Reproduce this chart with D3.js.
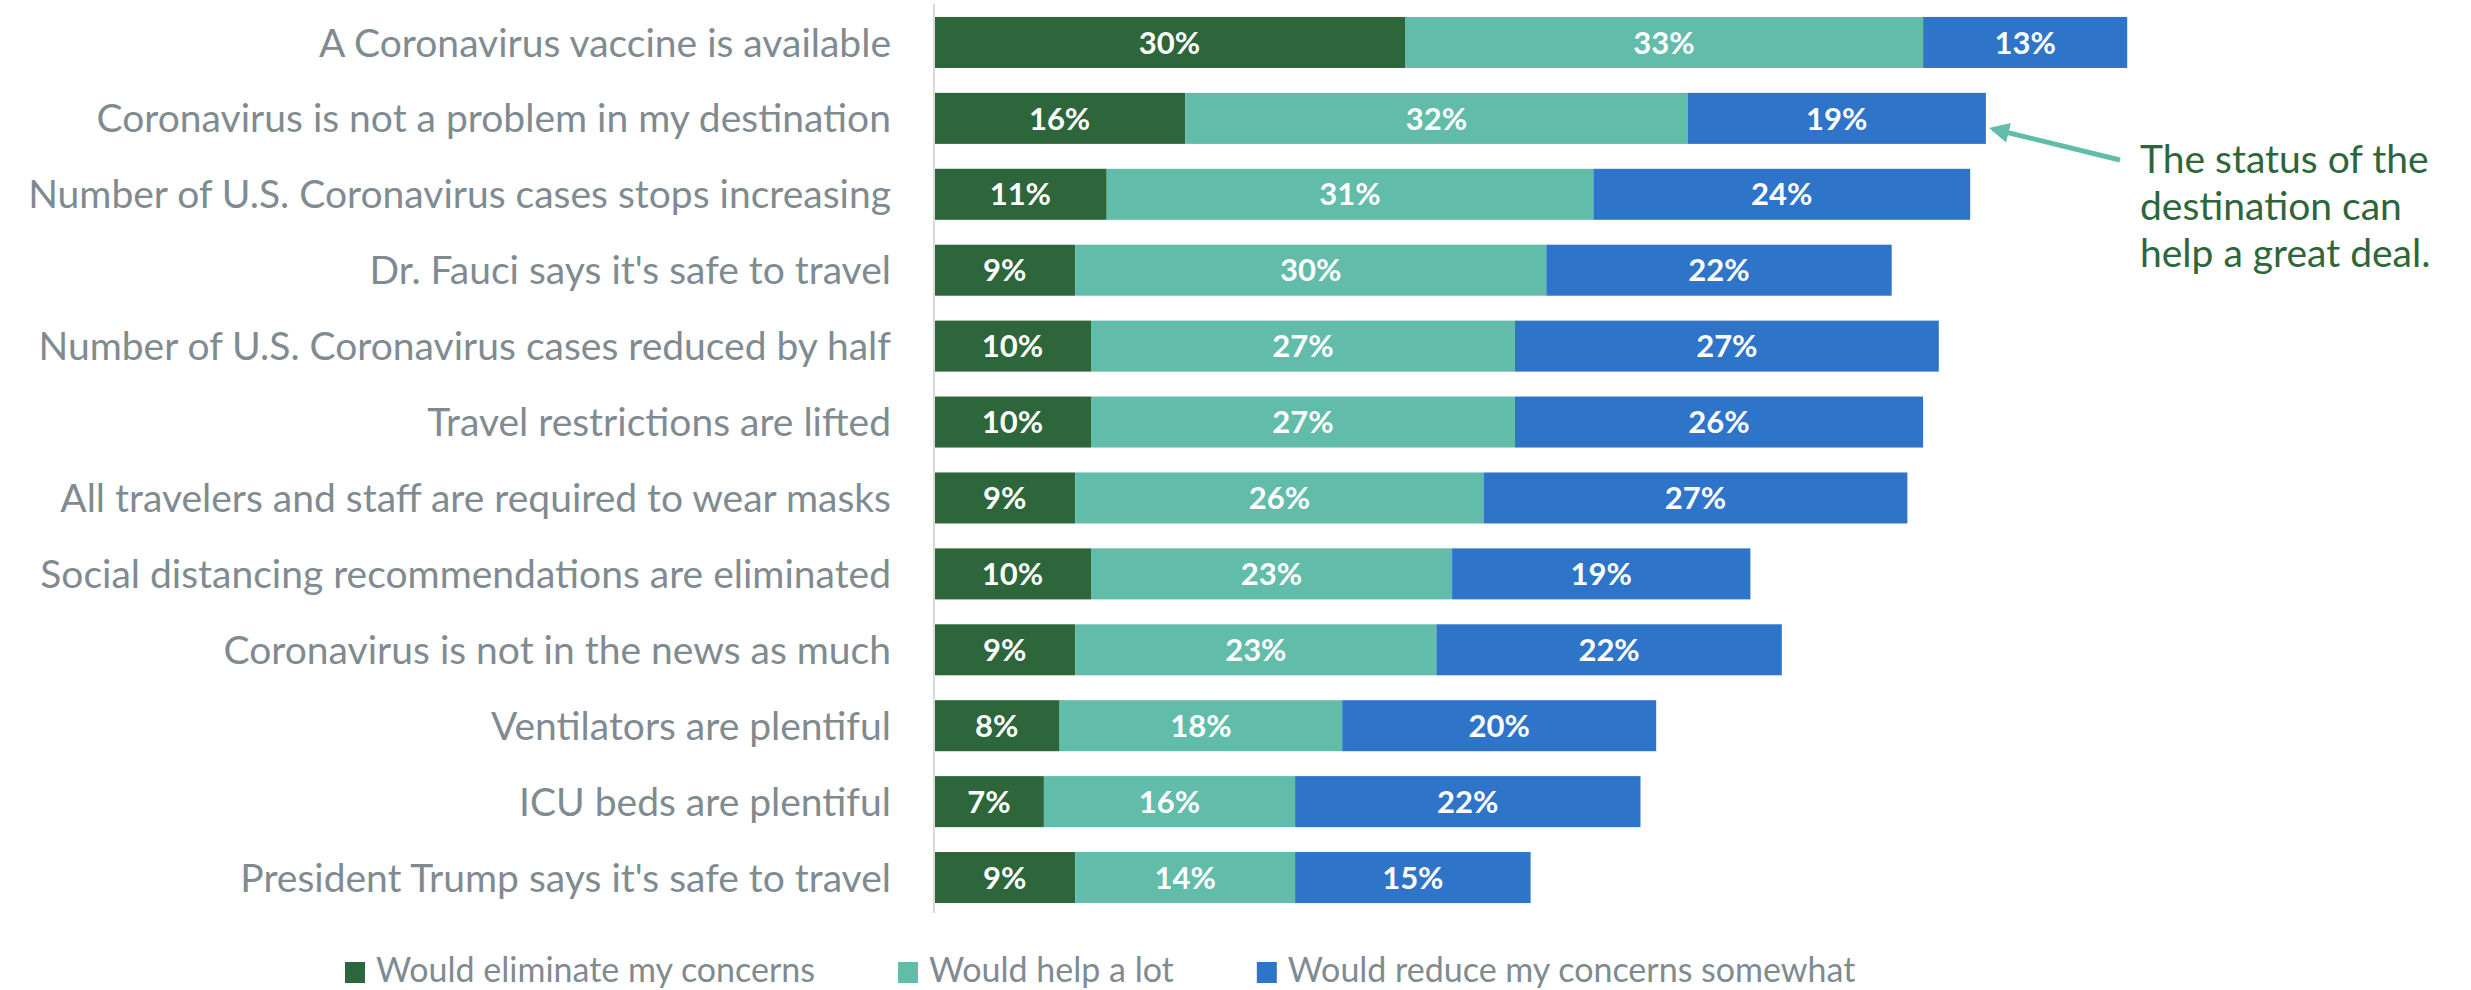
<!DOCTYPE html>
<html>
<head>
<meta charset="utf-8">
<script src="https://cdn.jsdelivr.net/npm/d3@7"></script>
<style>
  html, body { margin: 0; padding: 0; background: #ffffff; }
  svg { display: block; }
</style>
</head>
<body>
<svg id="chart" width="2471" height="990"></svg>
<script>
// Conditions that would ease travel concerns (share of respondents, %)
const categories = [
  "A Coronavirus vaccine is available",
  "Coronavirus is not a problem in my destination",
  "Number of U.S. Coronavirus cases stops increasing",
  "Dr. Fauci says it's safe to travel",
  "Number of U.S. Coronavirus cases reduced by half",
  "Travel restrictions are lifted",
  "All travelers and staff are required to wear masks",
  "Social distancing recommendations are eliminated",
  "Coronavirus is not in the news as much",
  "Ventilators are plentiful",
  "ICU beds are plentiful",
  "President Trump says it's safe to travel"
];
const seriesNames = [
  "Would eliminate my concerns",
  "Would help a lot",
  "Would reduce my concerns somewhat"
];
const eliminate = [30, 16, 11, 9, 10, 10, 9, 10, 9, 8, 7, 9];
const helpALot  = [33, 32, 31, 30, 27, 27, 26, 23, 23, 18, 16, 14];
const reduce    = [13, 19, 24, 22, 27, 26, 27, 19, 22, 20, 22, 15];
const annotationLines = ["The status of the", "destination can", "help a great deal."];

const colors = ["#2c663a", "#61bcaa", "#2e74c9"];
const labelGray = "#7f8b91";
const font = "Lato, 'Open Sans', sans-serif";

const svg = d3.select("#chart");

const rows = categories.map((c, i) => ({
  category: c,
  [seriesNames[0]]: eliminate[i],
  [seriesNames[1]]: helpALot[i],
  [seriesNames[2]]: reduce[i]
}));

const stacked = d3.stack().keys(seriesNames)(rows);

const x0 = 934;
const x = d3.scaleLinear().domain([0, 100]).range([x0, x0 + 1570]);
const y = d3.scaleBand()
  .domain(categories)
  .range([4.5, 915.5])
  .paddingInner(0.328)
  .paddingOuter(0.164);

const color = d3.scaleOrdinal().domain(seriesNames).range(colors);

// stacked segments
const layers = svg.append("g").selectAll("g")
  .data(stacked)
  .join("g")
  .attr("fill", d => color(d.key));

layers.selectAll("rect")
  .data(d => d)
  .join("rect")
  .attr("x", d => x(d[0]))
  .attr("y", d => y(d.data.category))
  .attr("width", d => x(d[1]) - x(d[0]))
  .attr("height", y.bandwidth());

// value labels centred in each segment
layers.selectAll("text")
  .data(d => d.map(v => ({ v, key: d.key })))
  .join("text")
  .attr("x", d => (x(d.v[0]) + x(d.v[1])) / 2)
  .attr("y", d => y(d.v.data.category) + y.bandwidth() / 2)
  .attr("dy", "0.36em")
  .attr("text-anchor", "middle")
  .attr("fill", "#ffffff")
  .attr("font-family", font)
  .attr("font-weight", "bold")
  .attr("font-size", 31)
  .text(d => (d.v[1] - d.v[0]) + "%");

// category axis
const yAxis = d3.axisLeft(y).tickSize(0).tickPadding(43);
const axisG = svg.append("g")
  .attr("transform", `translate(${x0},0)`)
  .call(yAxis);
axisG.select(".domain")
  .attr("stroke", "#d9d9d9")
  .attr("stroke-width", 2)
  .attr("d", "M0,4V913");
axisG.selectAll("text")
  .attr("fill", labelGray)
  .attr("font-family", font)
  .attr("font-size", 39)
  .attr("dy", "0.36em");

// legend
const legend = svg.append("g").attr("transform", "translate(345,962)");
let lx = 0;
seriesNames.forEach((name, i) => {
  const item = legend.append("g").attr("transform", `translate(${lx},0)`);
  item.append("rect")
    .attr("width", 20).attr("height", 21)
    .attr("fill", colors[i]);
  const t = item.append("text")
    .attr("x", 31).attr("y", 20)
    .attr("fill", labelGray)
    .attr("font-family", font)
    .attr("font-size", 34)
    .text(name);
  lx += 31 + t.node().getComputedTextLength() + 83;
});

// annotation arrow and note
const defs = svg.append("defs");
defs.append("marker")
  .attr("id", "arrowhead")
  .attr("viewBox", "0 0 10 10")
  .attr("refX", 8).attr("refY", 5)
  .attr("markerWidth", 4).attr("markerHeight", 4)
  .attr("orient", "auto")
  .append("path")
  .attr("d", "M0,0L10,5L0,10Z")
  .attr("fill", "#61bcaa");

svg.append("line")
  .attr("x1", 2120).attr("y1", 160)
  .attr("x2", 1993).attr("y2", 129)
  .attr("stroke", "#61bcaa")
  .attr("stroke-width", 5)
  .attr("marker-end", "url(#arrowhead)");

svg.append("text")
  .attr("x", 2140)
  .attr("font-family", font)
  .attr("font-size", 39)
  .attr("fill", "#2c663a")
  .selectAll("tspan")
  .data(annotationLines)
  .join("tspan")
  .attr("x", 2140)
  .attr("y", (d, i) => 173 + i * 47)
  .text(d => d);
</script>
</body>
</html>
